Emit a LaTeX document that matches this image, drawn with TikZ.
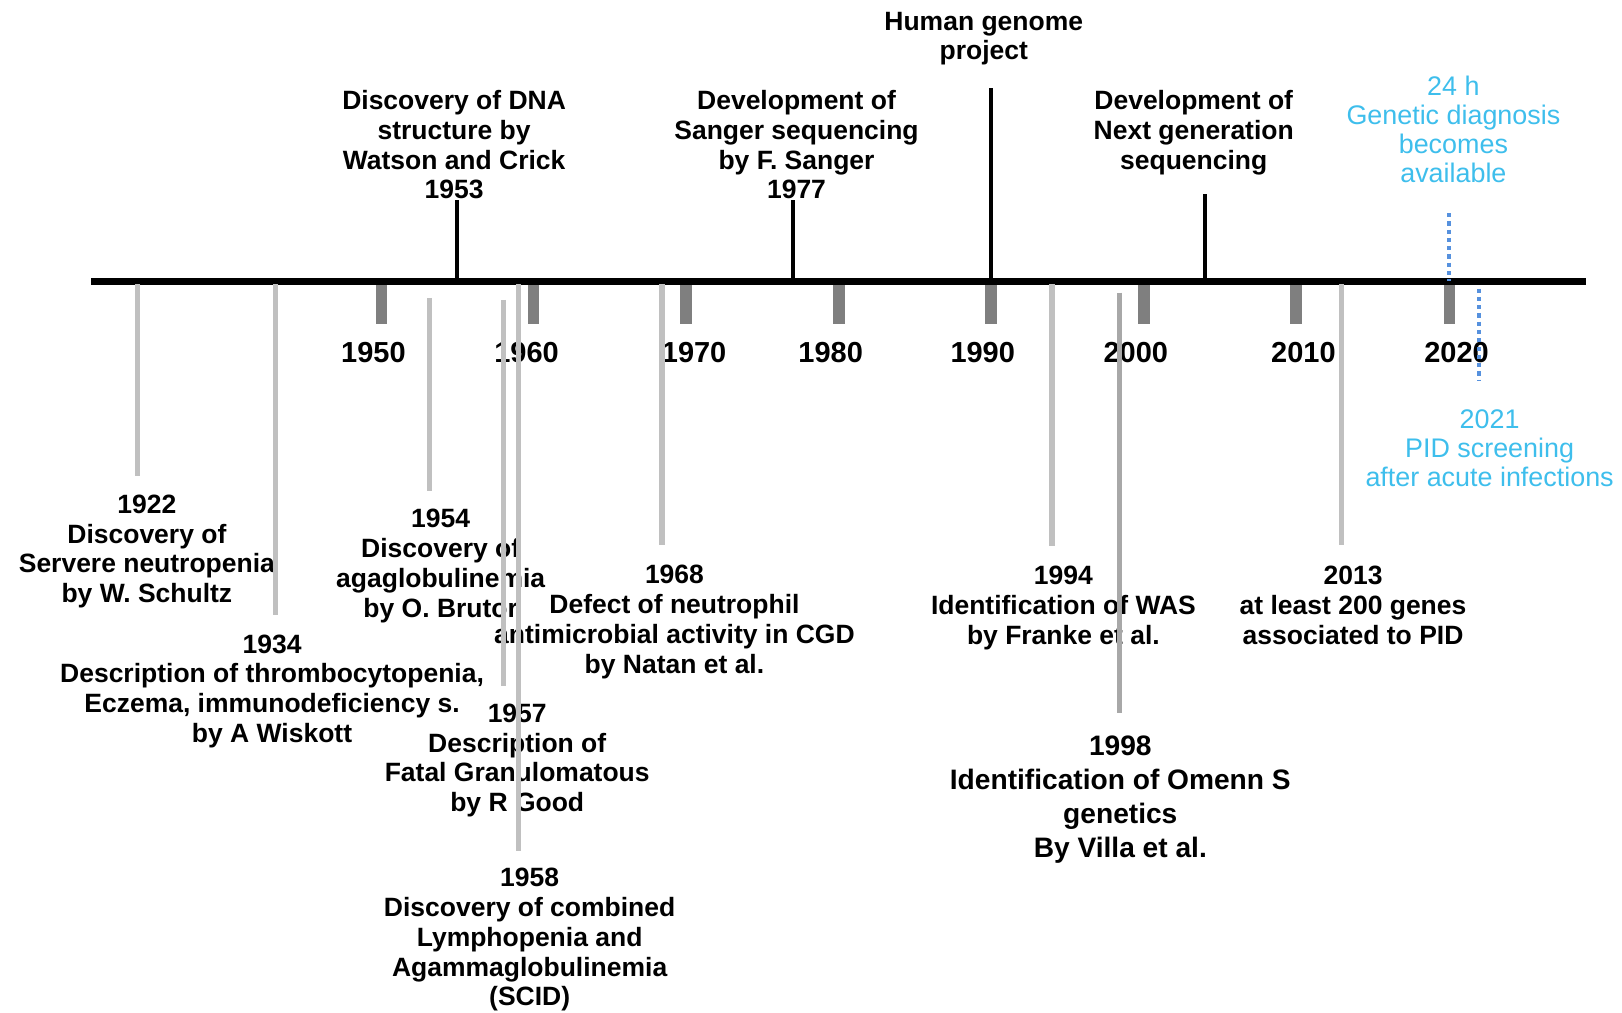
\documentclass[tikz,border=0pt]{standalone}
\usepackage{fontspec}
\setmainfont{Liberation Sans}
\definecolor{tickgray}{RGB}{127,127,127}
\definecolor{evgray}{RGB}{192,192,192}
\definecolor{evgrayd}{RGB}{168,168,168}
\definecolor{ltblue}{RGB}{62,190,236}
\definecolor{dotblue}{RGB}{86,145,222}
\begin{document}
\begin{tikzpicture}[x=0.5pt,y=-0.5pt,
  ev/.style={font=\bfseries\fontsize{12.8}{14.4}\selectfont, align=center, anchor=north, inner sep=0pt, text=black},
  evbig/.style={font=\bfseries\fontsize{13.6}{16.5}\selectfont, align=center, anchor=north, inner sep=0pt, text=black},
  bluetext/.style={font=\fontsize{13}{14}\selectfont, align=center, anchor=north, inner sep=0pt, text=ltblue},
  yearlab/.style={font=\bfseries\fontsize{14}{16}\selectfont, anchor=north, inner sep=0pt},
  yeartick/.style={fill=tickgray, draw=none},
  axisline/.style={line width=3.5pt, draw=black},
  uptick/.style={line width=2pt, draw=black},
  downline/.style={line width=2.5pt, draw=evgray},
  downlined/.style={line width=2.5pt, draw=evgrayd},
  blueline/.style={line width=2pt, draw=dotblue, dash pattern=on 2pt off 2pt}]
\useasboundingbox (0,0) rectangle (1568,979);

% year ticks
\foreach \n/\xx in {1950/369,1960/516,1970/663,1980/811,1990/958,2000/1106,2010/1253,2020/1401}{
  \fill[yeartick] (\xx-5.5,272) rectangle (\xx+5.5,313);
}
% axis
\coordinate (axL) at (88,272);
\coordinate (axR) at (1533,272);
\draw[axisline] (axL) -- (axR);

% year labels
\node[yearlab] (y1950) at (361,330) {1950};
\node[yearlab] (y1960) at (509,330) {1960};
\node[yearlab] (y1970) at (671,330) {1970};
\node[yearlab] (y1980) at (803,330) {1980};
\node[yearlab] (y1990) at (950,330) {1990};
\node[yearlab] (y2000) at (1098,330) {2000};
\node[yearlab] (y2010) at (1260,330) {2010};
\node[yearlab] (y2020) at (1408,330) {2020};

% top events
\node[ev] (hgp) at (951,11) {Human genome\\project};
\node[ev] (dna) at (439,87) {Discovery of DNA\\structure by\\Watson and Crick\\1953};
\node[ev] (sanger) at (770,87) {Development of\\Sanger sequencing\\by F. Sanger\\1977};
\node[ev] (ngs) at (1154,87) {Development of\\Next generation\\sequencing};
\node[bluetext] (diag) at (1405,73) {24 h\\Genetic diagnosis\\becomes\\available};
\node[bluetext] (pid) at (1440,396) {2021\\PID screening\\after acute infections};

% bottom events
\node[ev] (e1922) at (142,478) {1922\\Discovery of\\Servere neutropenia\\by W. Schultz};
\node[ev] (e1934) at (263,613) {1934\\Description of thrombocytopenia,\\Eczema, immunodeficiency s.\\by A Wiskott};
\node[ev] (e1954) at (426,492) {1954\\Discovery of\\agaglobulinemia\\by O. Brutor};
\node[ev] (e1957) at (500,680) {1957\\Description of\\Fatal Granulomatous\\by R Good};
\node[ev] (e1958) at (512,839) {1958\\Discovery of combined\\Lymphopenia and\\Agammaglobulinemia\\(SCID)};
\node[ev] (e1968) at (652,546) {1968\\Defect of neutrophil\\antimicrobial activity in CGD\\by Natan et al.};
\node[ev] (e1994) at (1028,547) {1994\\Identification of WAS\\by Franke et al.};
\node[evbig] (e1998) at (1083,711) {1998\\Identification of Omenn S\\genetics\\By Villa et al.};
\node[ev] (e2013) at (1308,547) {2013\\at least 200 genes\\associated to PID};

% up ticks
\coordinate (u1953a) at (442,272); \coordinate (u1953b) at (442,193);
\coordinate (u1977a) at (767,272); \coordinate (u1977b) at (767,193);
\coordinate (uhgpa) at (958,272); \coordinate (uhgpb) at (958,85);
\coordinate (ungsa) at (1165,272); \coordinate (ungsb) at (1165,188);
\draw[uptick] (u1953a) -- (u1953b);
\draw[uptick] (u1977a) -- (u1977b);
\draw[uptick] (uhgpa) -- (uhgpb);
\draw[uptick] (ungsa) -- (ungsb);

% down lines
\coordinate (d1922a) at (133,275); \coordinate (d1922b) at (133,460);
\coordinate (d1934a) at (266,275); \coordinate (d1934b) at (266,595);
\coordinate (d1954a) at (415,288); \coordinate (d1954b) at (415,475);
\coordinate (d1957a) at (487,290); \coordinate (d1957b) at (487,663);
\coordinate (d1958a) at (501,275); \coordinate (d1958b) at (501,823);
\coordinate (d1968a) at (640,275); \coordinate (d1968b) at (640,527);
\coordinate (d1994a) at (1017,275); \coordinate (d1994b) at (1017,528);
\coordinate (d1998a) at (1082,283); \coordinate (d1998b) at (1082,689);
\coordinate (d2013a) at (1297,275); \coordinate (d2013b) at (1297,527);
\draw[downline] (d1922a) -- (d1922b);
\draw[downline] (d1934a) -- (d1934b);
\draw[downline] (d1954a) -- (d1954b);
\draw[downline] (d1957a) -- (d1957b);
\draw[downline] (d1958a) -- (d1958b);
\draw[downline] (d1968a) -- (d1968b);
\draw[downline] (d1994a) -- (d1994b);
\draw[downlined] (d1998a) -- (d1998b);
\draw[downline] (d2013a) -- (d2013b);

% blue dotted lines
\coordinate (b24a) at (1401,206); \coordinate (b24b) at (1401,272);
\coordinate (b21a) at (1430,279); \coordinate (b21b) at (1430,368);
\draw[blueline] (b24a) -- (b24b);
\draw[blueline] (b21a) -- (b21b);
\end{tikzpicture}
\end{document}
